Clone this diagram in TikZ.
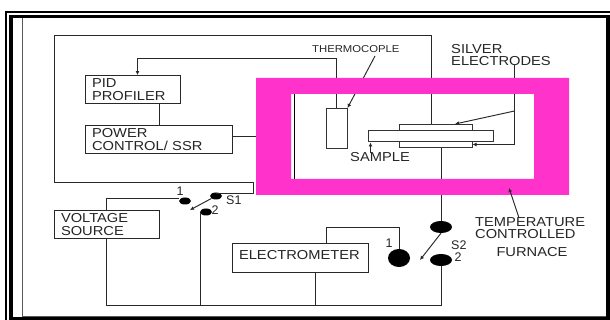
\documentclass[tikz,border=0pt]{standalone}
\usepackage{fontspec}
\setmainfont{Liberation Sans}
\newfontfamily\widefont[FakeStretch=1.13]{Liberation Sans}
\usetikzlibrary{arrows.meta,calc,shapes.geometric}
\definecolor{furnacepink}{RGB}{255,51,204}
\definecolor{wiregray}{RGB}{40,40,40}
\tikzset{
  wire/.style={wiregray,line width=0.95pt},
  flow/.style={wire,-{Latex[length=4pt,width=4pt]}},
  unit/.style={draw=wiregray,line width=0.95pt,fill=white,inner sep=0pt,align=left,font=\widefont\fontsize{13}{12.2}\selectfont,text=black!85},
  part/.style={draw=black!80,line width=1pt,fill=white,inner sep=0pt},
  contact/.style={ellipse,fill=black,inner sep=0pt},
  lab/.style={font=\widefont\fontsize{13}{12.2}\selectfont,text=black!85,inner sep=0pt,align=left},
  numlab/.style={font=\fontsize{12.5}{12}\selectfont,text=black!85,inner sep=0pt},
  smalllab/.style={font=\widefont\fontsize{10}{10}\selectfont,text=black!85,inner sep=0pt},
}
\begin{document}
\begin{tikzpicture}[x=1pt,y=-1pt]
  \path[use as bounding box,fill=white] (0,0) rectangle (610,320);
  % frame
  \draw[black,line width=1.8pt] (6,323) -- (6,12) -- (613,12);
  \draw[black,line width=3.6pt] (11,323) -- (11,16.5) -- (608.2,16.5) -- (608.2,318.3) -- (11,318.3);
  \draw[black!65,line width=1pt] (22,18) -- (22,316) -- (606,316);

  % control side
  \node[unit,minimum width=95pt,minimum height=28pt,text width=81pt] (pid) at (132.5,89.5) {PID\\PROFILER};
  \node[unit,minimum width=147pt,minimum height=28pt,text width=133pt] (power) at (158.5,139.5) {POWER\\CONTROL/ SSR};
  \node[unit,minimum width=105pt,minimum height=28pt,text width=91pt] (vsource) at (106.5,224.5) {VOLTAGE\\SOURCE};
  \node[unit,minimum width=136pt,minimum height=29pt,text width=122pt] (meter) at (300,257.5) {\raisebox{6pt}{ELECTROMETER}};

  % furnace contents
  \node[part,minimum width=21pt,minimum height=40pt] (thermo) at (336.5,128.5) {};
  \node[part,minimum width=73pt,minimum height=6pt] (eltop) at (435.5,128) {};
  \node[part,minimum width=73pt,minimum height=6pt] (elbot) at (435.5,145) {};
  \node[part,minimum width=125pt,minimum height=11pt] (sample) at (430.5,136.5) {};

  % switches
  \node[contact,minimum width=12pt,minimum height=7pt] (sa) at (185,201) {};
  \node[contact,minimum width=12pt,minimum height=7pt] (sc) at (216,196) {};
  \node[contact,minimum width=12pt,minimum height=7pt] (sb) at (206,212) {};
  \node[contact,minimum width=22pt,minimum height=12pt] (ttop) at (441,227) {};
  \node[contact,minimum width=22pt,minimum height=12pt] (tbot) at (441,260) {};
  \node[contact,minimum width=22pt,minimum height=18pt] (tone) at (399,258) {};

  \coordinate (loopa) at (431.5,35.5);
  \coordinate (busy) at (0,305.5);
  \coordinate (silv) at (514.5,65);
  \coordinate (silm) at (514.5,111);
  \coordinate (silb) at (514.5,144.5);

  % wires
  \draw[flow] (thermo.north) -- (336.5,58.5) -- (137.5,58.5) -- (pid.north -| 137.5,0);
  \draw[wire] (pid.south -| 159.5,0) -- (power.north -| 159.5,0);
  \draw[wire] (power.east |- 0,136.5) -- (256,136.5);
  \draw[wire] (eltop.north -| loopa) -- (loopa) -- (54.5,35.5) -- (54.5,182.5) -- (253.5,182.5) -- (253.5,193.5) -- (216,193.5);
  \draw[wire] (elbot.south -| 441.5,0) -- (441.5,221);
  \draw[wire] (441.5,266) -- (441.5,305.5) -- (vsource.south |- busy) -- (vsource.south);
  \draw[wire] (vsource.north) -- (106.5,198.5) -- (179,198.5);
  \draw[wire] (sb.west) -- (200.5,212) -- (200.5,305.5);
  \draw[wire] (meter.south -| 315.5,0) -- (315.5,305.5);
  \draw[wire] (meter.north -| 326.5,0) -- (326.5,227.5) -- (399,227.5) -- (tone.north);
  \draw[wire] (silv) -- (silb);
  \draw[flow] (silb) -- (elbot.east |- silb);
  \draw[flow] (silm) -- (455,124);
  \draw[flow] (375,56) -- (thermo.north east);
  \draw[flow] (370.5,153) -- (sample.south west -| 370.5,0);
  \draw[flow] (sc) -- (190,210);
  \draw[flow] (ttop.south) -- (420,260);

  % furnace
  \fill[furnacepink,even odd rule] (256,78) rectangle (569,195) (291,94) rectangle (534,179);
  \draw[black,line width=1pt] (294.5,94) -- (294.5,179);
  \draw[flow] (519,218) -- (509,188);

  % labels
  \node[smalllab,anchor=west] (thermolab) at (312,49) {THERMOCOPLE};
  \node[lab,anchor=west] (silverlab) at (451,55) {SILVER\\ELECTRODES};
  \node[lab,anchor=west] (samplelab) at (350,157) {SAMPLE};
  \node[lab,anchor=west] (tcf) at (475,228) {TEMPERATURE\\CONTROLLED};
  \node[lab,anchor=center] (furnacelab) at (532,252) {FURNACE};
  \node[numlab] (saone) at (180,191) {1};
  \node[numlab,anchor=west] (sname) at (226,200.5) {S1};
  \node[numlab] (satwo) at (215,210) {2};
  \node[numlab] (tone1) at (389,243) {1};
  \node[numlab,anchor=west] (tname) at (451,245) {S2};
  \node[numlab] (ttwo) at (458,257) {2};
\end{tikzpicture}
\end{document}
